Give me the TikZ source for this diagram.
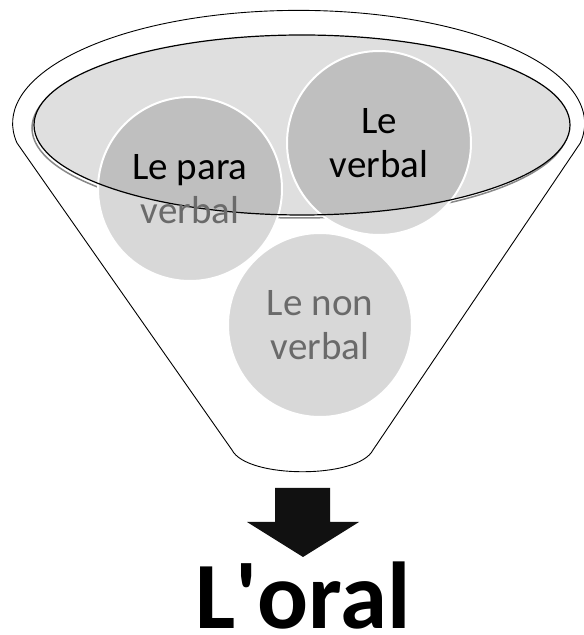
\documentclass[tikz,border=0pt]{standalone}
\usepackage{fontspec}
\setmainfont{Carlito}
\usetikzlibrary{positioning}
\definecolor{ellgray}{HTML}{DFDFDF}
\definecolor{circgray}{HTML}{BFBFBF}
\definecolor{txtgray}{HTML}{6A6A6A}
\definecolor{shadgray}{HTML}{3A3A3A}
\definecolor{arrblack}{HTML}{111111}

\begin{document}
\begin{tikzpicture}[x=1pt,y=1pt]
	\tikzstyle{cnode}=[shape=circle, draw=white, line width=2pt, fill=circgray, minimum size=184pt, inner sep=0pt];
	\tikzstyle{lnode}=[align=center, font=\fontsize{39}{44}\selectfont];
	\tikzstyle{rim}=[x radius=268, y radius=90];
	\def\funnelpath{(17,492) arc[start angle=190, end angle=-10, x radius=286, y radius=113] -- (373,185) .. controls (358,156) and (247,156) .. (232,185) -- cycle}

	\useasboundingbox (0,0) rectangle (584,635);

	% funnel body
	\fill[white] \funnelpath;

	% rim of the funnel
	\draw[shadgray, line width=1.5pt] (300,507) ellipse[rim];
	\fill[ellgray] (302,510) ellipse[rim];

	\node[cnode] (cpara) at (190,446) {};
	\node[cnode] (cverb) at (379,492) {};
	\node[cnode] (cnon) at (320,310) {};

	% veil below the rim
	\fill[white, opacity=0.4, even odd rule] (0,0) rectangle (584,635) (302,510) ellipse[rim];

	\draw[line width=0.9pt] \funnelpath;
	\draw[line width=1.2pt] (302,510) ellipse[rim];

	\node[lnode] (lpara) at (cpara) {Le para\\{\color{txtgray}verbal}};
	\node[lnode] (lverb) at (cverb) {Le\\verbal};
	\node[lnode, text=txtgray] (lnon) at (cnon) {Le non\\verbal};

	% arrow down to the result
	\fill[arrblack] (275,147) -- (330,147) -- (330,113) -- (359,113) -- (303,78) -- (247,113) -- (275,113) -- cycle;

	\node[font=\fontsize{95}{95}\selectfont\bfseries, anchor=base, inner sep=0pt] (oral) at (303,6) {L\textquotesingle oral};

\end{tikzpicture}
\end{document}
